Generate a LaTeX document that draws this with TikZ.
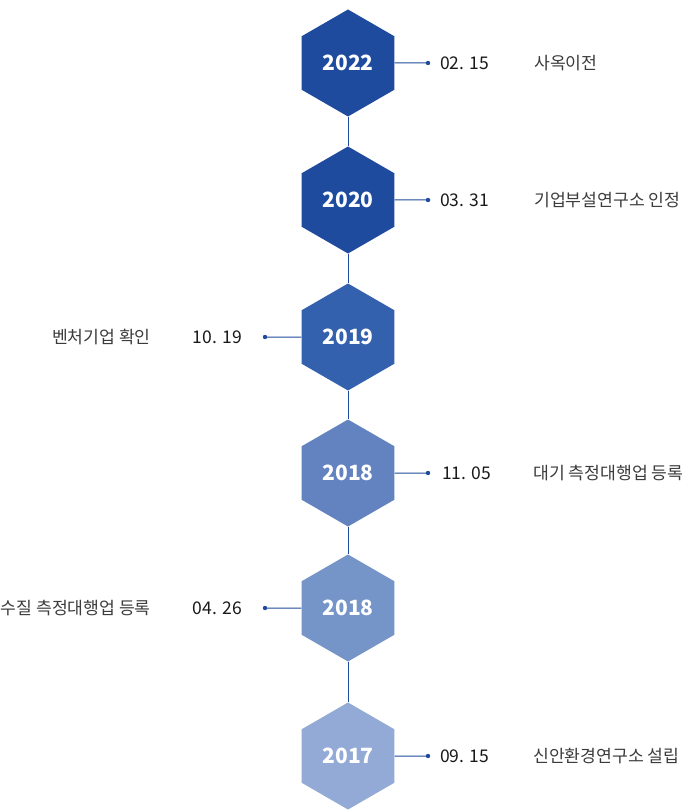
\documentclass[tikz,border=0pt]{standalone}
\usepackage{fontspec}
\setmainfont{Noto Sans CJK KR}
\usetikzlibrary{shapes.geometric}
\definecolor{cdark}{HTML}{1E4B9E}
\definecolor{cmid}{HTML}{3461AE}
\definecolor{clight}{HTML}{6383C0}
\definecolor{clighter}{HTML}{7594C8}
\definecolor{cpale}{HTML}{93AAD6}
\definecolor{cline}{HTML}{1E4B9E}
\definecolor{cdate}{HTML}{1A1A1A}
\definecolor{cevt}{HTML}{3C3C3C}
\begin{document}
\begin{tikzpicture}[x=1pt,y=-1pt,
  hexa/.style={regular polygon, regular polygon sides=6, shape border rotate=30,
    minimum size=107pt, inner sep=0pt, draw=none, text=white,
    font=\bfseries\fontsize{21}{21}\selectfont},
  datetext/.style={inner sep=0pt, text=cdate, font=\fontsize{17.5}{17.5}\selectfont},
  evttext/.style={inner sep=0pt, text=cevt, font=\fontsize{17.2}{17.2}\selectfont},
  conn/.style={draw=cline, line width=1pt},
  dotmark/.style={fill=cline}]
\useasboundingbox (0,0) rectangle (685,810);
\fill[white] (0,0) rectangle (685,810);

\node[hexa, fill=cdark] (h1) at (348,63) {2022};
\node[hexa, fill=cdark] (h2) at (348,200) {2020};
\node[hexa, fill=cmid] (h3) at (348,337) {2019};
\node[hexa, fill=clight] (h4) at (348,473) {2018};
\node[hexa, fill=clighter] (h5) at (348,608) {2018};
\node[hexa, fill=cpale] (h6) at (348,756) {2017};

\draw[conn] (h1.south) -- (h2.north);
\draw[conn] (h2.south) -- (h3.north);
\draw[conn] (h3.south) -- (h4.north);
\draw[conn] (h4.south) -- (h5.north);
\draw[conn] (h5.south) -- (h6.north);

\coordinate (p1) at (428,63);
\coordinate (p2) at (428,200);
\coordinate (p3) at (265,337);
\coordinate (p4) at (428,473);
\coordinate (p5) at (265,608);
\coordinate (p6) at (428,756);

\draw[conn] (h1.east) -- (p1);
\draw[conn] (h2.east) -- (p2);
\draw[conn] (h3.west) -- (p3);
\draw[conn] (h4.east) -- (p4);
\draw[conn] (h5.west) -- (p5);
\draw[conn] (h6.east) -- (p6);
\foreach \p in {p1,p2,p3,p4,p5,p6} \fill[dotmark] (\p) circle (2.2);

\node[datetext, anchor=west] (d1) at (440,63) {02. 15};
\node[datetext, anchor=west] (d2) at (440,200) {03. 31};
\node[datetext, anchor=east] (d3) at (242,337) {10. 19};
\node[datetext, anchor=west] (d4) at (442,473) {11. 05};
\node[datetext, anchor=east] (d5) at (242,608) {04. 26};
\node[datetext, anchor=west] (d6) at (440,756) {09. 15};

\node[evttext, anchor=west] (e1) at (534,63) {사옥이전};
\node[evttext, anchor=west] (e2) at (534,200) {기업부설연구소 인정};
\node[evttext, anchor=east] (e3) at (151,337) {벤처기업 확인};
\node[evttext, anchor=west] (e4) at (533,473) {대기 측정대행업 등록};
\node[evttext, anchor=east] (e5) at (151,608) {수질 측정대행업 등록};
\node[evttext, anchor=west] (e6) at (533,756) {신안환경연구소 설립};
\end{tikzpicture}
\end{document}
